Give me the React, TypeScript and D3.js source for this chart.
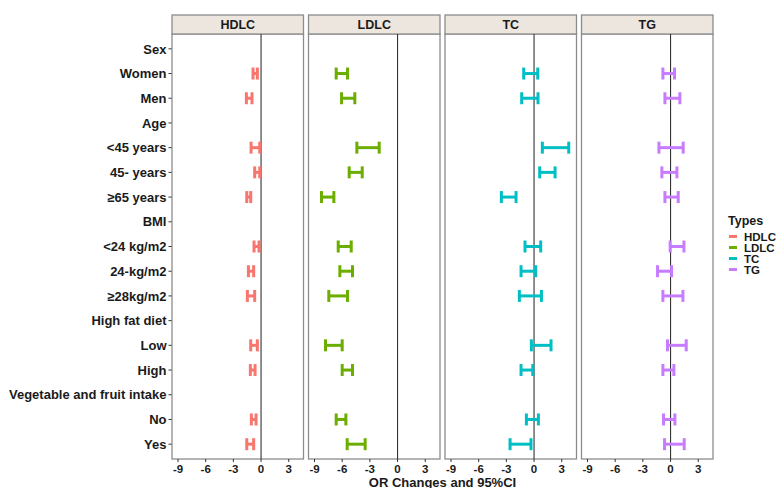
import React from "react";
import * as d3 from "d3";

const rows = [
  "Sex", "Women", "Men", "Age", "<45 years", "45- years", "≥65 years", "BMI",
  "<24 kg/m2", "24-kg/m2", "≥28kg/m2", "High fat diet", "Low", "High",
  "Vegetable and fruit intake", "No", "Yes",
];
const types = ["HDLC", "LDLC", "TC", "TG"];
const colors = ["#F8766D", "#6BAE00", "#00BFC4", "#C77CFF"];
const xTicks = [-9, -6, -3, 0, 3];

// [row, lower, upper]
const hdlc: [string, number, number][] = [
  ["Women", -0.87, -0.4], ["Men", -1.59, -0.98], ["<45 years", -1.08, -0.14],
  ["45- years", -0.69, -0.14], ["≥65 years", -1.55, -1.12], ["<24 kg/m2", -0.76, -0.22],
  ["24-kg/m2", -1.37, -0.8], ["≥28kg/m2", -1.48, -0.69], ["Low", -1.12, -0.4],
  ["High", -1.16, -0.65], ["No", -1.05, -0.54], ["Yes", -1.55, -0.8],
];
const ldlc: [string, number, number][] = [
  ["Women", -6.65, -5.42], ["Men", -6.07, -4.63], ["<45 years", -4.41, -1.99],
  ["45- years", -5.24, -3.83], ["≥65 years", -8.24, -6.9], ["<24 kg/m2", -6.43, -5.02],
  ["24-kg/m2", -6.25, -4.88], ["≥28kg/m2", -7.45, -5.42], ["Low", -7.81, -6.0],
  ["High", -6.0, -4.88], ["No", -6.65, -5.6], ["Yes", -5.46, -3.51],
];
const tc: [string, number, number][] = [
  ["Women", -1.12, 0.4], ["Men", -1.34, 0.43], ["<45 years", 0.9, 3.76],
  ["45- years", 0.61, 2.28], ["≥65 years", -3.54, -1.95], ["<24 kg/m2", -0.98, 0.72],
  ["24-kg/m2", -1.41, 0.18], ["≥28kg/m2", -1.59, 0.8], ["Low", -0.29, 1.84],
  ["High", -1.41, -0.14], ["No", -0.83, 0.47], ["Yes", -2.6, -0.33],
];
const tg: [string, number, number][] = [
  ["Women", -0.83, 0.43], ["Men", -0.61, 1.01], ["<45 years", -1.26, 1.37],
  ["45- years", -0.94, 0.69], ["≥65 years", -0.61, 0.83], ["<24 kg/m2", -0.04, 1.45],
  ["24-kg/m2", -1.41, 0.11], ["≥28kg/m2", -0.83, 1.34], ["Low", -0.33, 1.7],
  ["High", -0.83, 0.36], ["No", -0.76, 0.47], ["Yes", -0.65, 1.48],
];
const seriesData = [hdlc, ldlc, tc, tg];

export default function App() {
  const W = 781, H = 488;
  const panelTop = 34, panelBottom = 459, stripTop = 15;
  const panelLefts = [172, 308.5, 445, 581.5];
  const panelW = 131.5;
  const font = "Liberation Sans, Arial, sans-serif";
  const txt = "#1a1a1a";

  const y = d3.scalePoint<string>().domain(rows).range([panelTop, panelBottom]).padding(0.6);
  const capH = 12;

  return (
    <svg width={W} height={H} style={{ position: "absolute", left: 0, top: 0 }} fontFamily={font}>
      <rect width={W} height={H} fill="white" />
      {rows.map((r) => (
        <g key={r}>
          <line x1={168.5} x2={172} y1={y(r)} y2={y(r)} stroke="#333" strokeWidth={1} />
          <text x={166.5} y={y(r)} dy="0.36em" textAnchor="end" fontSize={13} fontWeight="bold" fill={txt}>
            {r}
          </text>
        </g>
      ))}
      {types.map((t, i) => {
        const left = panelLefts[i];
        const x = d3.scaleLinear().domain([-9.65, 4.6]).range([left, left + panelW]);
        const data = seriesData[i];
        return (
          <g key={t}>
            <rect x={left} y={panelTop} width={panelW} height={panelBottom - panelTop} fill="white" stroke="#8c8c8c" strokeWidth={1.3} />
            <rect x={left} y={stripTop} width={panelW} height={panelTop - stripTop} fill="#ECE6DF" stroke="#8c8c8c" strokeWidth={1.3} />
            <text x={left + panelW / 2} y={(stripTop + panelTop) / 2} dy="0.36em" textAnchor="middle" fontSize={12.5} fontWeight="bold" fill={txt}>
              {t}
            </text>
            <line x1={x(0)} x2={x(0)} y1={panelTop} y2={panelBottom} stroke="#333" strokeWidth={1.1} />
            {data.map(([r, lo, hi]) => {
              const yy = y(r)!;
              return (
                <g key={r} stroke={colors[i]} strokeWidth={3} fill="none">
                  <line x1={x(lo)} x2={x(hi)} y1={yy} y2={yy} />
                  <line x1={x(lo)} x2={x(lo)} y1={yy - capH / 2} y2={yy + capH / 2} />
                  <line x1={x(hi)} x2={x(hi)} y1={yy - capH / 2} y2={yy + capH / 2} />
                </g>
              );
            })}
            {xTicks.map((v) => (
              <g key={v}>
                <line x1={x(v)} x2={x(v)} y1={panelBottom} y2={panelBottom + 3} stroke="#333" />
                <text x={x(v)} y={panelBottom + 10} dy="0.36em" textAnchor="middle" fontSize={11.5} fontWeight="bold" fill={txt}>
                  {v}
                </text>
              </g>
            ))}
          </g>
        );
      })}
      <text x={(172 + 581.5 + panelW) / 2} y={486.5} textAnchor="middle" fontSize={13} fontWeight="bold" fill={txt}>
        OR Changes and 95%CI
      </text>
      <text x={728} y={220} dy="0.36em" fontSize={12.5} fontWeight="bold" fill={txt}>Types</text>
      {types.map((t, i) => (
        <g key={t}>
          <line x1={729} x2={737} y1={236.5 + i * 11} y2={236.5 + i * 11} stroke={colors[i]} strokeWidth={3} />
          <text x={744} y={236.5 + i * 11} dy="0.36em" fontSize={11.5} fontWeight="bold" fill={txt}>{t}</text>
        </g>
      ))}
    </svg>
  );
}
